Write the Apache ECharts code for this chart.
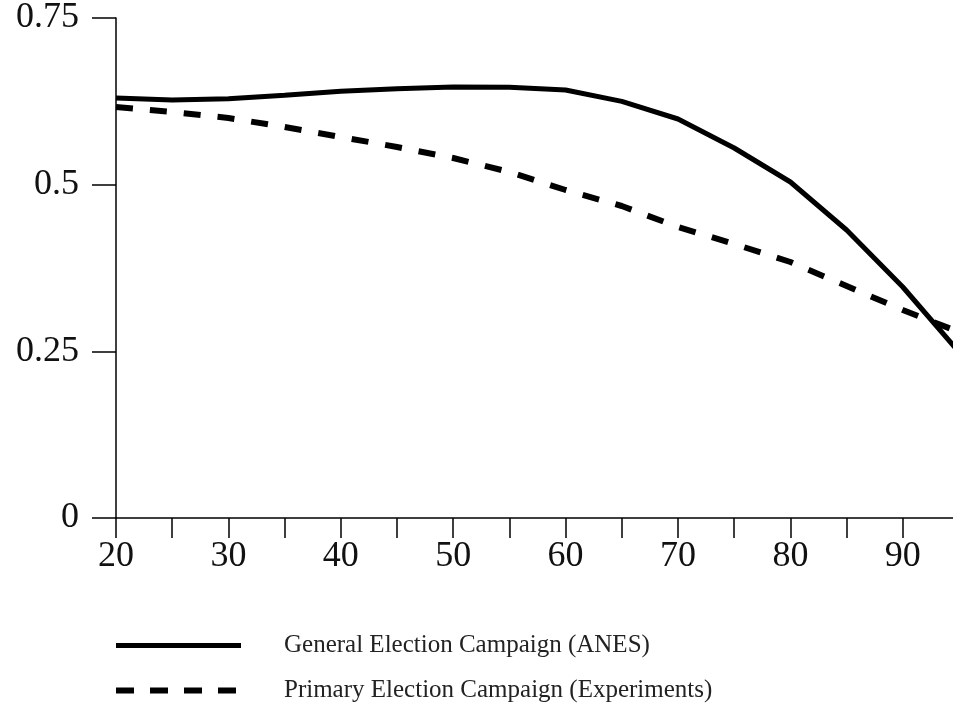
<!DOCTYPE html>
<html>
<head>
<meta charset="utf-8">
<script src="https://cdn.jsdelivr.net/npm/echarts@6/dist/echarts.min.js"></script>
<style>html,body{margin:0;padding:0;background:#fff;}#c{width:953px;height:709px;}</style>
</head>
<body>
<div id="c"></div>
<script>
var ages = [20, 25, 30, 35, 40, 45, 50, 55, 60, 65, 70, 75, 80, 85, 90, 95];
var generalVals = [0.630, 0.627, 0.629, 0.634, 0.640, 0.644, 0.6465, 0.646, 0.642, 0.625, 0.5985, 0.555, 0.504, 0.432, 0.3465, 0.249];
var primaryVals = [0.6165, 0.609, 0.600, 0.5865, 0.5715, 0.5565, 0.540, 0.519, 0.492, 0.468, 0.4365, 0.411, 0.384, 0.348, 0.312, 0.279];
var yTicks = [0, 0.25, 0.5, 0.75];
var seriesNames = ['General Election Campaign (ANES)', 'Primary Election Campaign (Experiments)'];

function pairs(xs, ys) { return xs.map(function (x, i) { return [x, ys[i]]; }); }

var font = 'Liberation Serif';
var chart = echarts.init(document.getElementById('c'), null, {renderer: 'canvas'});
chart.setOption({
  animation: false,
  backgroundColor: '#fff',
  grid: {left: 116, width: 843, top: 18, height: 500, containLabel: false, outerBoundsMode: 'none'},
  xAxis: {
    type: 'value', min: 20, max: 95, interval: 5,
    splitLine: {show: false},
    axisLine: {show: true, lineStyle: {color: '#000', width: 1.5}},
    axisTick: {show: true, length: 20, lineStyle: {color: '#000', width: 1.5}},
    axisLabel: {
      color: '#111', fontFamily: font, fontSize: 36, margin: 21,
      formatter: function (v) { return (v % 10 === 0 && v < 95) ? String(v) : ''; }
    }
  },
  yAxis: {
    type: 'value', min: 0, max: 0.75, interval: 0.25,
    splitLine: {show: false},
    axisLine: {show: true, lineStyle: {color: '#000', width: 1.5}},
    axisTick: {show: true, length: 24, lineStyle: {color: '#000', width: 1.5}},
    axisLabel: {color: '#111', fontFamily: font, fontSize: 36, margin: 37,
      formatter: function (v) { return yTicks.indexOf(v) >= 0 ? String(v) : ''; }}
  },
  legend: {
    show: true, orient: 'vertical', left: 113, top: 633, padding: 0,
    itemWidth: 125, itemHeight: 16, itemGap: 20,
    itemStyle: {opacity: 0},
    textStyle: {fontFamily: font, fontSize: 25, color: '#222', padding: [0, 0, 0, 38]},
    data: [
      {name: seriesNames[0], lineStyle: {width: 5, type: 'solid', color: '#000'}},
      {name: seriesNames[1], lineStyle: {width: 6, type: [18, 16], color: '#000'}}
    ]
  },
  series: [
    {
      name: seriesNames[0], type: 'line', data: pairs(ages, generalVals),
      symbol: 'none', smooth: false, clip: true,
      lineStyle: {color: '#000', width: 5, type: 'solid', cap: 'butt'},
      itemStyle: {color: '#000'}
    },
    {
      name: seriesNames[1], type: 'line', data: pairs(ages, primaryVals),
      symbol: 'none', smooth: false, clip: true,
      lineStyle: {color: '#000', width: 6, type: [17, 17], cap: 'butt'},
      itemStyle: {color: '#000'}
    }
  ]
});
</script>
</body>
</html>
